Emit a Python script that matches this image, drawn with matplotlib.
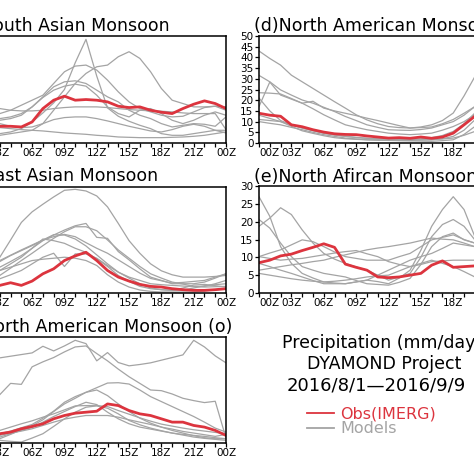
import matplotlib.pyplot as plt

# diurnal cycle of precipitation (mm/day), hourly 00Z..24Z
hours = list(range(25))
xtick_hours = [0, 3, 6, 9, 12, 15, 18, 21, 24]
xtick_labels = ['00Z', '03Z', '06Z', '09Z', '12Z', '15Z', '18Z', '21Z', '00Z']

# (a) South Asian Monsoon
obs_a = [10.3, 7.3, 5.6, 5.0, 5.0, 4.8, 6.3, 10.3, 12.8, 14.0, 12.8, 13.0, 12.8,
         12.3, 11.0, 10.6, 10.8, 9.8, 9.2, 8.8, 10.3, 11.6, 12.6, 11.8, 10.3]
models_a = [
    [3.8, 3.3, 2.8, 2.8, 3.3, 4.3, 6.3, 9, 12, 16, 24, 31, 20, 10.5, 8, 6.5, 5.3, 4.3, 2.8, 2.3, 2.3, 2.8, 3.3, 3.8, 3.8],
    [2.8, 2.6, 2.3, 2.3, 2.8, 3.3, 3.8, 5.8, 9.8, 13.8, 17.8, 20.8, 22.8, 23.3, 25.8, 27.3, 25.3, 21.3, 16.3, 12.8, 11.8, 10.8, 10.8, 11.0, 10.8],
    [9.8, 9.3, 9.0, 8.8, 9.8, 11.3, 12.8, 14.3, 17.8, 21.3, 23.0, 23.3, 21.8, 18.8, 15.3, 12.3, 10.3, 9.3, 8.3, 7.8, 8.0, 9.3, 10.6, 11.0, 9.8],
    [7.8, 7.3, 6.8, 6.8, 7.3, 8.3, 10.8, 13.8, 16.8, 18.3, 18.6, 17.8, 15.8, 13.8, 12.3, 9.8, 8.3, 7.3, 5.8, 4.8, 5.3, 5.8, 5.6, 5.0, 7.8],
    [10.8, 10.6, 10.3, 10.3, 9.8, 9.6, 9.6, 9.8, 10.3, 10.6, 10.8, 10.8, 10.8, 10.6, 10.3, 10.0, 9.8, 9.6, 9.5, 9.3, 9.0, 8.8, 8.8, 8.8, 4.0],
    [6.3, 6.0, 5.8, 5.8, 5.0, 4.6, 4.8, 5.8, 7.0, 7.6, 7.8, 7.8, 7.3, 6.6, 5.8, 5.0, 4.3, 3.6, 3.3, 4.0, 5.0, 5.6, 5.0, 3.8, 3.0],
    [5.3, 5.0, 4.8, 4.6, 4.3, 4.0, 3.8, 3.6, 3.3, 3.0, 2.8, 2.6, 2.3, 2.1, 1.8, 1.7, 1.6, 1.6, 1.6, 1.7, 1.8, 2.0, 2.3, 2.8, 3.3],
    [8.3, 7.8, 7.6, 7.3, 7.8, 8.8, 10.8, 13.6, 15.8, 17.0, 17.6, 17.0, 14.3, 10.8, 8.8, 7.8, 9.8, 10.3, 8.8, 6.8, 5.8, 6.8, 8.3, 9.3, 8.3],
]

# (b) East Asian Monsoon
obs_b = [1.3, 1.6, 2.0, 2.3, 3.1, 2.3, 3.6, 5.8, 7.3, 9.8, 11.2, 12.3, 9.8,
         6.8, 4.8, 3.6, 2.6, 2.0, 1.8, 1.3, 1.0, 0.8, 0.8, 1.0, 1.3]
models_b = [
    [5.3, 6.5, 8.5, 10.8, 16, 21.3, 24.5, 26.8, 29, 31, 31.3, 30.8, 29.3, 26, 21, 15.8, 12, 8.8, 6.7, 5.5, 4.8, 4.8, 4.8, 5.0, 5.3],
    [5.8, 6.3, 7.0, 7.8, 9.5, 11.3, 13.5, 15.8, 17.5, 19.0, 20.3, 21.0, 16.8, 16.5, 12.5, 10.0, 7.3, 4.8, 3.8, 2.8, 2.8, 2.8, 3.3, 4.5, 5.8],
    [3.8, 4.3, 4.8, 5.3, 7.5, 9.8, 12, 14.3, 16.5, 18.5, 20, 20, 18.8, 16, 13, 10.5, 8, 5.8, 4.5, 3.3, 2.7, 2.0, 2.0, 2.8, 3.8],
    [2.8, 4.5, 7, 9.5, 11.3, 12.8, 14.3, 16, 17.6, 17.5, 16.3, 14.2, 11.5, 8.8, 6.3, 4.5, 2.8, 1.5, 1.0, 0.8, 0.9, 1.5, 2.2, 2.5, 2.8],
    [1.8, 3, 5, 6.8, 8.8, 10.8, 13.5, 16.3, 15.8, 15, 13.5, 12.3, 10.3, 8, 5.3, 3.5, 2, 1.3, 1.0, 0.8, 1.5, 2.4, 2.6, 2.2, 1.8],
    [2.0, 2.5, 3.3, 4.3, 5.5, 6.8, 8.8, 10.8, 12, 8.0, 11.8, 11.8, 10.5, 8.3, 6.3, 4.8, 3.8, 2.8, 2.5, 2.3, 2.1, 1.9, 1.8, 1.9, 2.0],
    [1.3, 2.8, 4.8, 6.8, 7.8, 8.8, 9.8, 10.2, 10.5, 10.8, 10.5, 9.8, 8.3, 5.5, 3.3, 1.8, 0.9, 0.5, 0.3, 0.3, 0.3, 0.3, 0.6, 1.0, 1.3],
    [5.8, 7, 8.5, 9.8, 11.4, 13, 14.5, 16, 17, 17.7, 17, 15.2, 13.5, 12, 10, 8, 6, 4.4, 3.7, 3, 3.2, 3.5, 3.8, 4.8, 5.8],
]

# (c) North American Monsoon (o)
obs_c = [2.3, 2.3, 2.5, 2.8, 3.3, 4.3, 5.0, 5.8, 7.3, 8.3, 9.0, 9.3, 9.6,
         11.8, 11.3, 9.8, 8.8, 8.3, 7.3, 6.3, 6.3, 5.3, 4.8, 3.8, 2.3]
models_c = [
    [24.2, 24.5, 25, 25.7, 26.2, 26.7, 27.2, 29.2, 27.8, 29.3, 31, 30, 24.8, 27.3, 24.3, 23.3, 23.7, 24.2, 25, 25.8, 26.6, 31, 29, 26.3, 24.2],
    [8, 10, 12.5, 14.6, 18, 17.7, 23, 24.5, 25.8, 27.5, 29, 29.3, 27, 24.8, 22.3, 20, 18, 16, 15.8, 14.8, 13.5, 12.8, 12.2, 12.6, 1.5],
    [2.0, 2.3, 2.5, 2.8, 3.6, 4.6, 5.6, 7.5, 9.6, 12.3, 14, 15.3, 16.7, 18.1, 18.2, 17.8, 16, 14, 12.5, 11, 9.5, 8, 6.3, 4.5, 3.3],
    [1.3, 1.3, 1.3, 1.3, 2.6, 4, 5.2, 7, 9.5, 11.8, 13.5, 15.3, 16, 14.3, 11.8, 9.5, 7.5, 6, 4.8, 3.8, 3, 2.2, 1.6, 1.3, 1.3],
    [1.3, 1.5, 1.6, 1.8, 2.8, 3.8, 4.7, 6.3, 8, 9.5, 11, 12.3, 11.6, 9.3, 7.3, 5.8, 4.8, 4.2, 3.6, 3.0, 2.6, 2.3, 2.0, 1.6, 1.3],
    [2.8, 3.1, 3.5, 3.8, 4.8, 5.8, 6.7, 7.8, 8.8, 10, 11.2, 11.3, 11.3, 11, 9.8, 8.7, 7.6, 6.6, 5.7, 5.1, 4.5, 4.0, 3.6, 3.2, 2.8],
    [2.4, 2.3, 2.3, 2.3, 3, 3.6, 4.3, 5.3, 6.3, 7.2, 7.8, 8.3, 8.3, 8.3, 7.8, 7.0, 6.3, 5.6, 4.8, 4.2, 3.5, 3.0, 2.5, 2.0, 2.6],
    [0.8, 0.8, 0.8, 0.8, 0.5, 0.3, 1.5, 2.8, 5, 7.3, 9.3, 10.8, 11.2, 10.5, 8.8, 6.8, 5.5, 4.5, 3.7, 3, 2.4, 1.8, 1.4, 1.1, 0.8],
]

# (d) North American Monsoon
obs_d = [13.9, 13.0, 12.5, 8.5, 7.6, 6.2, 5.1, 4.3, 4.0, 3.9, 3.3, 2.8, 2.3,
         2.5, 2.2, 2.8, 2.2, 2.8, 4.6, 8.5, 12.5, 15, 16, 15, 13.9]
models_d = [
    [43, 39.5, 36.4, 31.7, 28.6, 25.5, 22.4, 19.3, 16.3, 13.2, 10.8, 9, 7.7, 7.2, 7, 7.5, 8.5, 10.5, 14, 22, 31, 36, 39, 41, 43],
    [31.6, 28.6, 24.8, 22.4, 20.1, 18.6, 16.7, 14.7, 12.4, 10.5, 8.5, 7.3, 6.2, 6, 5.9, 6.3, 7, 8.5, 10, 13, 17, 22, 26, 29, 31.6],
    [17, 28.5, 22.4, 20.5, 18.6, 19.5, 16.3, 15, 13.9, 12.8, 11.6, 10.5, 9.3, 8.1, 7, 7.2, 7.5, 9, 11, 13.9, 17, 19, 19, 18, 17],
    [23.5, 23.3, 22.9, 20.8, 18.6, 16, 13.2, 10.8, 8.5, 7.3, 6.2, 5.4, 4.6, 4.2, 3.9, 4.2, 4.6, 6, 7.7, 10, 13.2, 17, 20, 22, 23.5],
    [21, 15, 10.5, 8.5, 7, 5.8, 4.6, 3.8, 3.1, 2.6, 2.2, 1.9, 1.9, 1.7, 1.6, 1.5, 1.5, 2, 3.1, 6, 10.8, 15, 18, 20, 21],
    [11, 10.5, 10, 8.5, 7, 5.8, 4.6, 3.8, 3.1, 2.6, 2.2, 1.9, 1.9, 1.8, 1.8, 2, 2.5, 3.5, 5.4, 9, 14, 13, 12, 11.5, 11],
    [10, 9.2, 8.5, 7.3, 6.2, 5, 3.9, 3.1, 2.3, 1.9, 1.5, 1.3, 1.2, 1.1, 1, 0.9, 0.8, 1.1, 1.5, 4, 7.7, 9, 10, 10, 10],
    [13, 11.5, 10, 7.8, 5.7, 4.5, 3.4, 2.5, 2, 1.7, 1.5, 1.4, 1.3, 1.2, 1.2, 1.4, 1.6, 1.9, 2.3, 3.6, 5.4, 8, 10, 12, 13],
]

# (e) North Afircan Monsoon
obs_e = [8.5, 9.2, 10.4, 10.9, 11.9, 12.8, 13.8, 12.8, 8.1, 7.2, 6.4, 4.5, 4.3,
         4.5, 5.0, 5.5, 7.8, 9.0, 7.2, 7.4, 7.6, 8, 8.2, 8.4, 8.5]
models_e = [
    [27, 21.5, 13, 8.3, 5.5, 4.2, 3.1, 2.8, 2.6, 3.1, 3.6, 3.2, 2.6, 4.2, 6.4, 12, 18.7, 23.4, 27, 23.4, 15.8, 12, 15, 22, 27],
    [18.7, 21, 23.9, 22, 17.7, 14, 11.1, 9.5, 8.3, 7.3, 6.4, 5, 3.6, 4.5, 5.5, 10, 15.8, 19.2, 20.6, 18.7, 14.9, 14, 15, 17, 18.7],
    [20.6, 18.2, 14, 10.2, 7.4, 6.4, 5.5, 5, 4.5, 3.5, 2.6, 2.4, 2.2, 3, 4.1, 8, 13, 15.8, 16.8, 14.9, 14, 15, 17, 19, 20.6],
    [10.2, 11.2, 12.1, 13.5, 14.9, 14.4, 13, 11.5, 10.2, 9.7, 9.2, 9.2, 9.2, 10.2, 11.1, 13, 14.9, 15.6, 16.3, 15, 14, 12.5, 11.5, 10.8, 10.2],
    [6.4, 6.9, 7.4, 7.9, 8.3, 8.8, 9.2, 10, 10.7, 11.4, 12.1, 12.6, 13, 13.5, 14, 14.7, 15.4, 15.1, 14.9, 14, 13, 11, 9, 7.5, 6.4],
    [10.2, 9.7, 9.2, 9.5, 9.7, 10.2, 10.7, 11.2, 11.6, 11.9, 11, 10.2, 8.8, 8, 7.4, 8, 8.8, 9, 9.2, 9.2, 9.2, 9.5, 9.8, 10, 10.2],
    [5.5, 5, 4.5, 4, 3.6, 3.3, 3.1, 3.3, 3.6, 4, 4.5, 4.8, 5, 6.2, 7.4, 8.3, 9.2, 8.3, 7.4, 6, 4.5, 4.5, 5, 5.3, 5.5],
    [8.3, 7.4, 6.4, 5.5, 4.5, 3.5, 2.6, 2.6, 2.6, 3.1, 3.6, 5, 6.4, 7.8, 9.2, 10.2, 11.1, 12.5, 14, 13.5, 13, 11, 10, 9, 8.3],
]

RED = '#dc343e'
GRAY = '#a4a4a4'
W = 474.0

fig = plt.figure(figsize=(4.74, 4.74), dpi=100)


def box(x0, y0, x1, y1):
    # pixel box (top-left origin) -> figure fraction
    return [x0 / W, 1 - y1 / W, (x1 - x0) / W, (y1 - y0) / W]


tick_font = dict(family='DejaVu Sans', size=7.5)

panels = [
    # box, obs, models, ylim top, yticks, title, title x, title baseline, align
    (box(-32.5, 36, 226, 143), obs_a, models_a, 32, None, '(a)South Asian Monsoon', 170, 31, 'right'),
    (box(-32.5, 187, 226, 293), obs_b, models_b, 32, None, '(b)East Asian Monsoon', 158, 181, 'right'),
    (box(-32.5, 337, 226, 443), obs_c, models_c, 32, None, '(c)North American Monsoon (o)', 232, 332, 'right'),
    (box(259, 36, 518, 143), obs_d, models_d, 50, range(0, 51, 5), '(d)North American Monsoon', 254, 31, 'left'),
    (box(259, 186, 518, 293), obs_e, models_e, 30, range(0, 31, 5), '(e)North Afircan Monsoon', 254, 182, 'left'),
]

for rect, obs, models, ytop, yticks, title, tx, ty, ha in panels:
    ax = fig.add_axes(rect)
    for m in models:
        ax.plot(hours, m, color=GRAY, lw=0.9)
    ax.plot(hours, obs, color=RED, lw=2.0)
    ax.set_xlim(0, 24)
    ax.set_ylim(0, ytop)
    ax.set_xticks(range(25), minor=True)
    ax.set_xticks(xtick_hours)
    ax.set_xticklabels(xtick_labels, **tick_font)
    if yticks is None:
        ax.set_yticks([])
    else:
        ax.set_yticks(list(yticks))
        ax.set_yticklabels([str(v) for v in yticks], **tick_font)
        ax.get_xticklabels()[0].set_horizontalalignment('left')
    ax.tick_params(axis='both', which='both', direction='out', length=3, width=0.9, pad=0.5)
    ax.tick_params(axis='y', pad=1)
    for s in ax.spines.values():
        s.set_linewidth(1.1)
    fig.text(tx / W, 1 - ty / W, title, ha=ha, va='baseline', fontsize=12.5)

# legend / annotation block
fig.text(282 / W, 1 - 347.7 / W, 'Precipitation (mm/day)', fontsize=12.5, va='baseline')
fig.text(307 / W, 1 - 369 / W, 'DYAMOND Project', fontsize=12.5, va='baseline')
fig.text(287 / W, 1 - 391 / W, '2016/8/1\u20142016/9/9', fontsize=13, va='baseline')
fig.add_artist(plt.Line2D([307 / W, 334 / W], [1 - 413 / W, 1 - 413 / W], color=RED, lw=1.3))
fig.add_artist(plt.Line2D([307 / W, 334 / W], [1 - 428 / W, 1 - 428 / W], color=GRAY, lw=1.3))
fig.text(340 / W, 1 - 418.3 / W, 'Obs(IMERG)', fontsize=11.5, va='baseline', color=RED)
fig.text(340 / W, 1 - 433.3 / W, 'Models', fontsize=11.5, va='baseline', color=GRAY)

fig.savefig('out.png', dpi=100)
